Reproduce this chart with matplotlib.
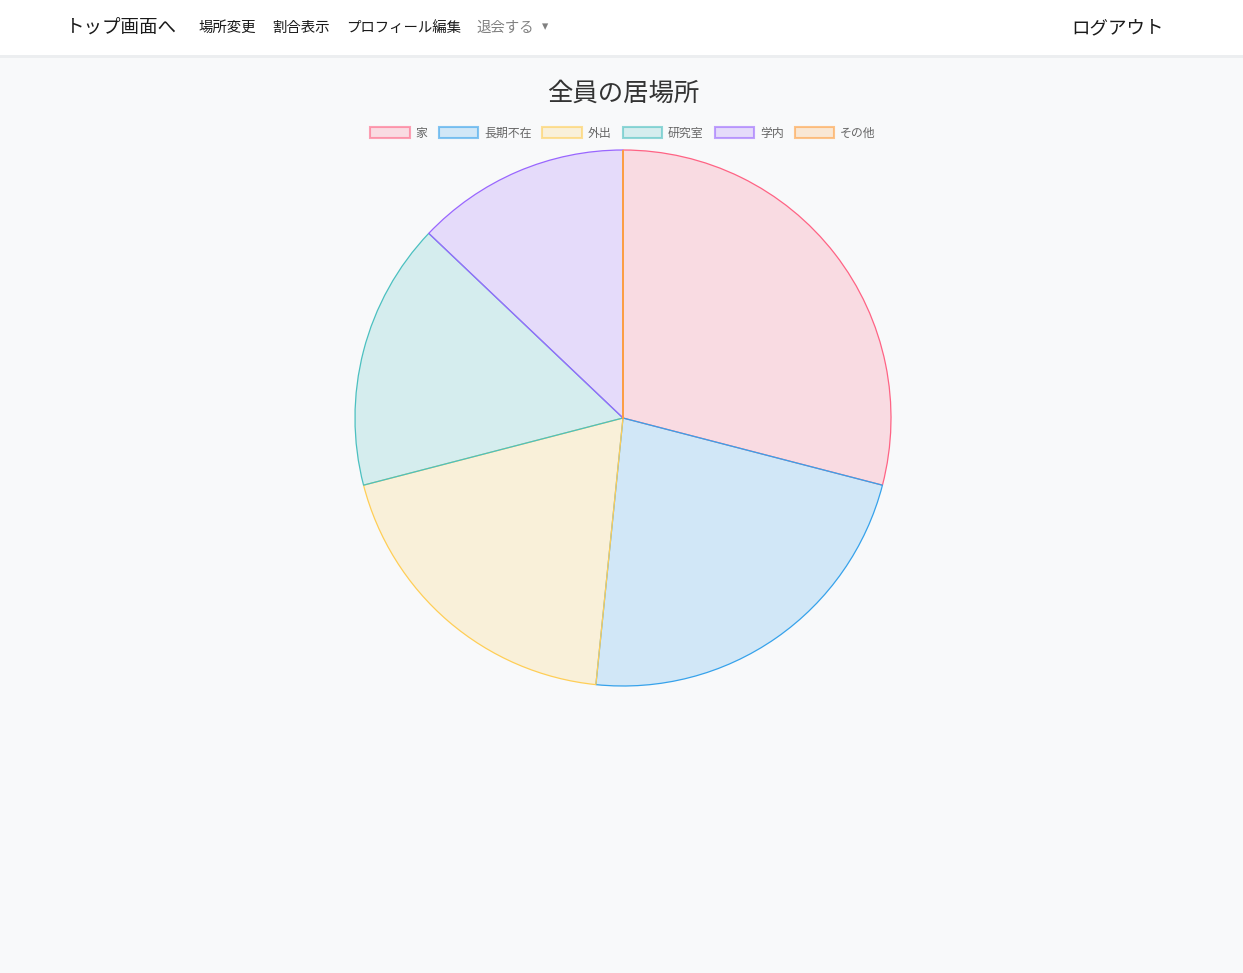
import matplotlib.pyplot as plt
from matplotlib.patches import Rectangle, Patch

plt.rcParams['font.family'] = ['Noto Sans CJK JP', 'DejaVu Sans']

# data
labels = ['家', '長期不在', '外出', '研究室', '学内', 'その他']
counts = [9, 7, 6, 5, 4, 0]
line_rgb = [(255, 99, 132), (54, 162, 235), (255, 206, 86),
            (75, 192, 192), (153, 102, 255), (255, 159, 64)]
nav_left = ['場所変更', '割合表示', 'プロフィール編集']

W, H = 1243, 973
fig = plt.figure(figsize=(W / 100, H / 100), dpi=100)
fig.patch.set_facecolor('#f8f9fa')

def px(x, y):
    return x / W, 1 - y / H

# navbar
fig.patches.append(Rectangle((0, 1 - 58 / H), 1, 3 / H, transform=fig.transFigure,
                             facecolor='#eceef0', edgecolor='none', zorder=1))
fig.patches.append(Rectangle((0, 1 - 55 / H), 1, 55 / H, transform=fig.transFigure,
                             facecolor='white', edgecolor='none', zorder=2))
fig.text(*px(66, 28), 'トップ画面へ', fontsize=13.3, color='#1a1a1a', va='center', zorder=3)
for x, t in zip([199, 272, 346], nav_left):
    fig.text(*px(x, 28), t, fontsize=10.4, color='#1a1a1a', va='center', zorder=3)
fig.text(*px(476, 28), '退会する', fontsize=10.4, color='#808080', va='center', zorder=3)
fig.text(*px(545, 27), '▾', fontsize=9, color='#808080', ha='center', va='center', zorder=3)
fig.text(*px(1071, 28), 'ログアウト', fontsize=13.3, color='#1a1a1a', va='center', zorder=3)

# title
fig.text(*px(623, 94), '全員の居場所', fontsize=18.3, color='#333333', ha='center', va='center')

fills = [tuple(c / 255 for c in rgb) + (0.2,) for rgb in line_rgb]
edges = [tuple(c / 255 for c in rgb) for rgb in line_rgb]

# pie
cx, cy, r = 623, 418, 268
ax = fig.add_axes([(cx - r) / W, (H - cy - r) / H, 2 * r / W, 2 * r / H])
wedges, _ = ax.pie(counts, startangle=90, counterclock=False, colors=fills, radius=1)
for w, e in zip(wedges, edges):
    w.set_edgecolor(e)
    w.set_linewidth(0.9)
# zero-size slice still draws its border line
ax.plot([0, 0], [0, 1], color=edges[5], lw=1.3)
ax.set_xlim(-1.0, 1.0)
ax.set_ylim(-1.0, 1.0)
ax.set_aspect('equal')
ax.axis('off')

# legend
handles = [Patch(facecolor=f, edgecolor=e[:3] + (0.6,), linewidth=1.5)
           for f, e in zip(fills, edges)]
leg = fig.legend(handles, labels, loc='center', bbox_to_anchor=px(623, 133), ncol=6,
                 frameon=False, fontsize=8.6, handlelength=3.3, handleheight=1.0,
                 handletextpad=0.5, columnspacing=0.92, borderpad=0)
for t in leg.get_texts():
    t.set_color('#666666')

fig.savefig('out.png', dpi=100, facecolor=fig.get_facecolor())
